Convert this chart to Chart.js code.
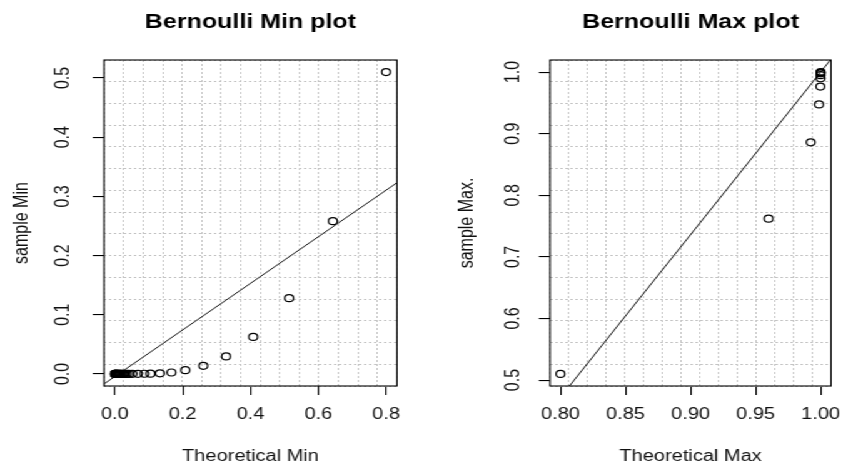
<!DOCTYPE html>
<html>
<head>
<meta charset="utf-8">
<script src="https://cdn.jsdelivr.net/npm/chart.js@4.4.1/dist/chart.umd.min.js"></script>
<style>
  html, body { margin: 0; padding: 0; background: #fff; overflow: hidden; }
  /* plots are laid out narrow and widened, like the original device output */
  #wrap { width: 682px; height: 468px; display: flex; transform: scaleX(1.2507); transform-origin: 0 0; }
  .panel { position: relative; width: 341px; height: 468px; }
</style>
</head>
<body>
<div id="wrap">
  <div class="panel"><canvas id="minPlot"></canvas></div>
  <div class="panel"><canvas id="maxPlot"></canvas></div>
</div>
<script>
// Bernoulli min / max quantile plots

const FONT = "'Liberation Sans', Arial, sans-serif";

// min plot
const minTheoretical = [0.8, 0.643, 0.514, 0.408, 0.328, 0.261, 0.208, 0.167, 0.133, 0.105, 0.087, 0.068,
  0.052, 0.042, 0.036, 0.031, 0.027, 0.024, 0.021, 0.018, 0.016, 0.014, 0.012, 0.01, 0.0085, 0.007,
  0.006, 0.0045, 0.0035, 0.0025, 0.0015, 0.0008, 0.0003, 0];
const minSample = [0.51, 0.258, 0.128, 0.0625, 0.0296, 0.0137, 0.0063, 0.0024, 0.001, 0.0005, 0.0003, 0.0002,
  0.0001, 0, 0, 0, 0, 0, 0, 0, 0, 0, 0, 0, 0, 0,
  0, 0, 0, 0, 0, 0, 0, 0];
const minLineX = [-0.032, 0.832];
const minLineY = [-0.017, 0.323];
const minXTicks = [0, 0.2, 0.4, 0.6, 0.8];
const minXLabels = ['0.0', '0.2', '0.4', '0.6', '0.8'];
const minYTicks = [0, 0.1, 0.2, 0.3, 0.4, 0.5];
const minYLabels = ['0.0', '0.1', '0.2', '0.3', '0.4', '0.5'];

// max plot
const maxTheoretical = [0.8, 0.96, 0.9924, 0.9988, 0.9998, 1.0, 1.0, 1.0, 1.0, 1.0];
const maxSample = [0.51, 0.762, 0.886, 0.9475, 0.9765, 0.990, 0.995, 0.998, 0.999, 1.0];
const maxLineX = [0.792, 1.008];
const maxLineY = [0.451, 1.021];
const maxXTicks = [0.8, 0.85, 0.9, 0.95, 1.0];
const maxXLabels = ['0.80', '0.85', '0.90', '0.95', '1.00'];
const maxYTicks = [0.5, 0.6, 0.7, 0.8, 0.9, 1.0];
const maxYLabels = ['0.5', '0.6', '0.7', '0.8', '0.9', '1.0'];

const GRID_CELLS = 15;

// box, main title and rotated y tick labels
const rFrame = {
  id: 'rFrame',
  afterDatasetsDraw(chart, args, opts) {
    const { ctx, chartArea: a } = chart;
    ctx.save();
    ctx.strokeStyle = '#000';
    ctx.lineWidth = 1.1;
    ctx.strokeRect(a.left, a.top, a.right - a.left, a.bottom - a.top);

    ctx.fillStyle = '#000';
    ctx.font = 'bold 20px ' + FONT;
    ctx.textAlign = 'center';
    ctx.textBaseline = 'alphabetic';
    ctx.fillText(opts.title, (a.left + a.right) / 2, 28);

    const ys = chart.scales.y;
    ctx.font = '16px ' + FONT;
    ctx.fillStyle = '#111';
    ctx.textBaseline = 'middle';
    opts.yTicks.forEach((v, i) => {
      ctx.save();
      ctx.translate(opts.yLabelX, ys.getPixelForValue(v));
      ctx.rotate(-Math.PI / 2);
      ctx.fillText(opts.yLabels[i], 0, 0);
      ctx.restore();
    });
    ctx.restore();
  }
};

function cellTicks(scale) {
  const out = [];
  for (let i = 0; i <= GRID_CELLS; i++) {
    out.push({ value: scale.min + (scale.max - scale.min) * i / GRID_CELLS });
  }
  scale.ticks = out;
}

function makePlot(id, p) {
  const tickMarks = { drawOnChartArea: false, drawTicks: true, tickLength: 9, color: '#000', lineWidth: 1.1 };
  const dotted = { color: '#c4c4c4', lineWidth: 1, drawTicks: false };

  return new Chart(document.getElementById(id), {
    type: 'scatter',
    data: {
      datasets: [{
        data: p.xs.map((x, i) => ({ x: x, y: p.ys[i] })),
        pointRadius: 3.5,
        pointBorderWidth: 1.2,
        pointBorderColor: '#000',
        pointBackgroundColor: 'rgba(0,0,0,0)'
      }, {
        data: p.lineX.map((x, i) => ({ x: x, y: p.lineY[i] })),
        showLine: true,
        pointRadius: 0,
        borderWidth: 1,
        borderColor: '#111'
      }]
    },
    options: {
      responsive: true,
      maintainAspectRatio: false,
      animation: false,
      events: [],
      layout: { padding: { top: 60, right: p.padRight, bottom: 0, left: 0 } },
      plugins: {
        legend: { display: false },
        tooltip: { enabled: false },
        rFrame: { title: p.title, yTicks: p.yTicks, yLabels: p.yLabels, yLabelX: p.yLabelX }
      },
      scales: {
        x: {
          type: 'linear', min: p.xMin, max: p.xMax,
          afterBuildTicks: s => { s.ticks = p.xTicks.map(v => ({ value: v })); },
          afterFit: s => { s.height = 82; },
          grid: tickMarks,
          border: { display: false },
          ticks: {
            padding: 10, color: '#111', maxRotation: 0, autoSkip: false,
            font: { family: FONT, size: 16 },
            callback: (v, i) => p.xLabels[i]
          },
          title: {
            display: true, text: p.xTitle, color: '#111',
            font: { family: FONT, size: 16 }, padding: { top: 0, bottom: 1.4 }
          }
        },
        y: {
          type: 'linear', min: p.yMin, max: p.yMax,
          afterBuildTicks: s => { s.ticks = p.yTicks.map(v => ({ value: v })); },
          afterFit: s => { s.width = p.yWidth; },
          grid: tickMarks,
          border: { display: false },
          ticks: { display: false },
          title: {
            display: true, text: p.yTitle, color: '#111',
            font: { family: FONT, size: 16 }, padding: { top: p.yTitlePad, bottom: 0 }
          }
        },
        gx: {
          type: 'linear', axis: 'x', position: 'bottom', min: p.xMin, max: p.xMax,
          afterBuildTicks: cellTicks,
          afterFit: s => { s.height = 0; },
          grid: dotted,
          border: { display: false, dash: [2, 2] },
          ticks: { display: false }
        },
        gy: {
          type: 'linear', axis: 'y', position: 'left', min: p.yMin, max: p.yMax,
          afterBuildTicks: cellTicks,
          afterFit: s => { s.width = 0; },
          grid: dotted,
          border: { display: false, dash: [2, 2] },
          ticks: { display: false }
        }
      }
    },
    plugins: [rFrame]
  });
}

makePlot('minPlot', {
  title: 'Bernoulli Min plot', xTitle: 'Theoretical Min', yTitle: 'sample Min',
  xs: minTheoretical, ys: minSample, lineX: minLineX, lineY: minLineY,
  xMin: -0.032, xMax: 0.832, yMin: -0.0204, yMax: 0.5304,
  xTicks: minXTicks, xLabels: minXLabels, yTicks: minYTicks, yLabels: minYLabels,
  yWidth: 83.15, padRight: 23.6, yTitlePad: 8, yLabelX: 50.8
});

makePlot('maxPlot', {
  title: 'Bernoulli Max plot', xTitle: 'Theoretical Max', yTitle: 'sample Max.',
  xs: maxTheoretical, ys: maxSample, lineX: maxLineX, lineY: maxLineY,
  xMin: 0.792, xMax: 1.008, yMin: 0.4904, yMax: 1.0196,
  xTicks: maxXTicks, xLabels: maxXLabels, yTicks: maxYTicks, yLabels: maxYLabels,
  yWidth: 98.8, padRight: 7.7, yTitlePad: 22.8, yLabelX: 69.6
});
</script>
</body>
</html>
